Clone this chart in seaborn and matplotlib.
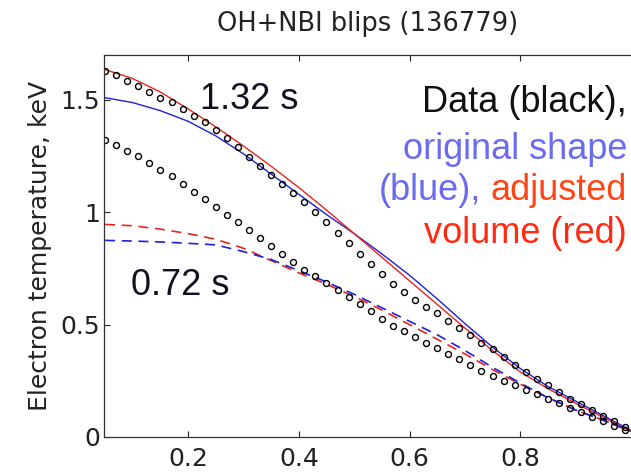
import matplotlib
matplotlib.use("Agg")
import matplotlib.pyplot as plt
import pandas as pd
import seaborn as sns

sns.set_theme(style="ticks")
plt.rcParams["font.family"] = ["DejaVu Sans"]

# --- measured profiles (black circles), 1.32 s and 0.72 s ---
rho_data = [0.05, 0.07, 0.09, 0.11, 0.13, 0.15, 0.17, 0.19, 0.21, 0.23,
            0.25, 0.27, 0.29, 0.31, 0.33, 0.35, 0.37, 0.39, 0.41, 0.43,
            0.45, 0.47, 0.49, 0.51, 0.53, 0.55, 0.57, 0.59, 0.61, 0.63,
            0.65, 0.67, 0.69, 0.71, 0.73, 0.75, 0.77, 0.79, 0.81, 0.83,
            0.85, 0.87, 0.89, 0.91, 0.93, 0.95, 0.97, 0.99]
te_data_132 = [1.63, 1.61, 1.585, 1.56, 1.535, 1.51, 1.49, 1.46, 1.43, 1.40,
               1.365, 1.33, 1.29, 1.245, 1.205, 1.165, 1.125, 1.085, 1.045, 1.00,
               0.955, 0.91, 0.865, 0.815, 0.77, 0.725, 0.68, 0.645, 0.61, 0.58,
               0.55, 0.515, 0.485, 0.455, 0.42, 0.39, 0.355, 0.32, 0.29, 0.26,
               0.23, 0.20, 0.17, 0.145, 0.12, 0.095, 0.07, 0.045]
te_data_072 = [1.32, 1.30, 1.275, 1.25, 1.22, 1.19, 1.16, 1.125, 1.09, 1.06,
               1.025, 0.99, 0.955, 0.92, 0.885, 0.85, 0.815, 0.78, 0.745, 0.715,
               0.685, 0.655, 0.625, 0.59, 0.56, 0.525, 0.495, 0.47, 0.445, 0.42,
               0.395, 0.37, 0.345, 0.32, 0.295, 0.27, 0.25, 0.23, 0.21, 0.19,
               0.17, 0.15, 0.13, 0.11, 0.09, 0.07, 0.05, 0.03]

# --- model profiles: original shape (blue) and adjusted volume (red) ---
rho_fit = [0.05, 0.10, 0.15, 0.20, 0.25, 0.30, 0.35, 0.40, 0.45, 0.50,
           0.55, 0.60, 0.65, 0.70, 0.75, 0.80, 0.85, 0.90, 0.95, 1.00]
te_blue_132 = [1.51, 1.488, 1.452, 1.405, 1.34, 1.26, 1.17, 1.08, 0.99, 0.905,
               0.815, 0.72, 0.615, 0.505, 0.40, 0.305, 0.225, 0.16, 0.095, 0.03]
te_red_132 = [1.635, 1.595, 1.535, 1.46, 1.38, 1.295, 1.205, 1.11, 1.01, 0.905,
              0.80, 0.695, 0.59, 0.485, 0.385, 0.29, 0.215, 0.15, 0.088, 0.025]
te_blue_072 = [0.875, 0.872, 0.868, 0.862, 0.855, 0.825, 0.79, 0.74, 0.69, 0.635,
               0.575, 0.515, 0.455, 0.385, 0.31, 0.24, 0.175, 0.12, 0.075, 0.025]
te_red_072 = [0.946, 0.94, 0.925, 0.905, 0.88, 0.84, 0.785, 0.73, 0.68, 0.625,
              0.565, 0.50, 0.435, 0.37, 0.30, 0.235, 0.175, 0.12, 0.075, 0.025]

BLUE = "#1f1fd6"
RED = "#e8251a"

fig = plt.figure(figsize=(6.31, 4.72), dpi=100)
ax = fig.add_axes([104 / 631, 35 / 472, 528 / 631, 382 / 472])

# fits
sns.lineplot(x=rho_fit, y=te_blue_132, ax=ax, color=BLUE, lw=1.0)
sns.lineplot(x=rho_fit, y=te_red_132, ax=ax, color=RED, lw=1.0)
sns.lineplot(x=rho_fit, y=te_red_072, ax=ax, color=RED, lw=1.2,
             linestyle=(0, (6, 4)))
sns.lineplot(x=rho_fit, y=te_blue_072, ax=ax, color=BLUE, lw=1.2,
             linestyle=(0, (6, 4)))

# data circles
for te in (te_data_132, te_data_072):
    sns.lineplot(x=rho_data, y=te, ax=ax, linestyle="none", marker="o",
                 ms=4.3, mfc="none", mec="black", mew=1.0)

ax.set_xlim(0.048, 1.002)
ax.set_ylim(0, 1.70)
ax.set_xticks([0.2, 0.4, 0.6, 0.8])
ax.set_xticklabels(["0.2", "0.4", "0.6", "0.8"])
ax.set_yticks([0, 0.5, 1, 1.5])
ax.set_yticklabels(["0", "0.5", "1", "1.5"])
ax.tick_params(axis="both", direction="in", length=4, width=0.8,
               labelsize=18, colors="#222222", top=True)
ax.tick_params(axis="x", pad=7)
ax.tick_params(axis="y", pad=3)
for sp in ax.spines.values():
    sp.set_color("#333333")
    sp.set_linewidth(0.9)

ax.set_ylabel("Electron temperature, keV", fontsize=18, color="#222222",
              labelpad=6)

fig.text(368 / 631, 1 - 24 / 472, "OH+NBI blips (136779)", ha="center",
         va="center", fontsize=18.5, color="#222222")

# time labels
lab_font = dict(family=["Liberation Sans", "DejaVu Sans"], fontsize=26)
ax.text(0.310, 1.50, "1.32 s", ha="center", va="center", color="#111122",
        **lab_font)
ax.text(0.185, 0.674, "0.72 s", ha="center", va="center", color="#111122",
        **lab_font)

# colour key written as text
ax.text(0.993, 1.49, "Data (black),", ha="right", va="center",
        color="#111111", **lab_font)
ax.text(0.993, 1.28, "original shape", ha="right", va="center",
        color="#6b6bf0", **lab_font)
t_adj = ax.text(0.993, 1.095, "adjusted", ha="right", va="center",
                color="#ff4515", **lab_font)
ax.annotate("(blue),", xy=(0, 0.5), xycoords=t_adj, xytext=(-7, 0),
            textcoords="offset points", ha="right", va="center",
            color="#6b6bf0", **lab_font)
ax.text(0.993, 0.905, "volume (red)", ha="right", va="center",
        color="#ff2a10", **lab_font)

fig.savefig("out.png", dpi=100)
